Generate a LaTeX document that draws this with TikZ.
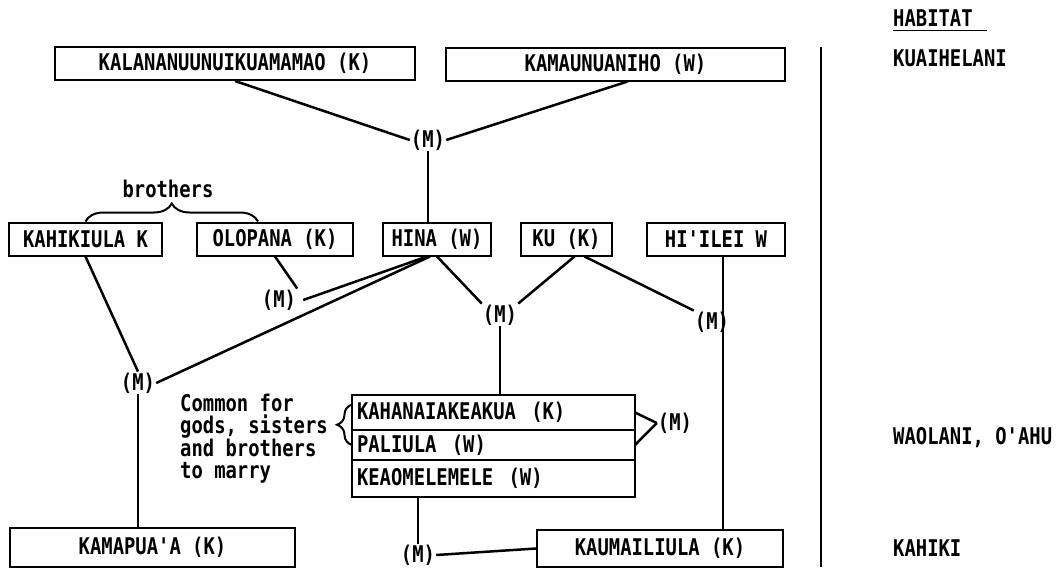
\documentclass[tikz,border=0pt]{standalone}
\usepackage{fontspec}
\setmonofont{DejaVu Sans Mono}[FakeStretch=0.82]
\usetikzlibrary{positioning,decorations.pathreplacing}

\tikzset{
  person/.style={draw, line width=2pt, minimum height=33pt, inner sep=2pt},
  marr/.style={inner sep=1pt},
  line/.style={line width=2.5pt},
  row/.style={draw, line width=2pt, outer sep=0pt, text width=273pt, inner xsep=5pt, inner ysep=0pt, align=left, anchor=north},
  place/.style={anchor=west, inner sep=0pt}
}

\begin{document}
\begin{tikzpicture}[x=1pt, y=-1pt, font=\ttfamily\bfseries\fontsize{23}{22}\selectfont]

\useasboundingbox (0,0) rectangle (1063,571);

\node(kalana) at (235, 63.5) [person, minimum width=360pt] {KALANANUUNUIKUAMAMAO (K)};
\node(kamau) at (615.5, 64) [person, minimum width=339pt] {KAMAUNUANIHO (W)};
\node(mtop) at (428, 140) [marr] {(M)};

\draw[line] (kalana.south) to (mtop.west);
\draw[line] ([xshift=12pt]kamau.south) to (mtop.east);

\node(kahiki) at (85.5, 239) [person, minimum width=153pt] {KAHIKIULA K};
\node(olopana) at (275, 239) [person, minimum width=156pt] {OLOPANA (K)};
\node(hina) at (437, 239) [person, minimum width=108pt] {HINA (W)};
\node(ku) at (566.5, 239) [person, minimum width=91pt] {KU (K)};
\node(hiilei) at (716, 239) [person, minimum width=138pt] {HI'ILEI W};

\draw[line] (mtop.south) to (mtop.south |- hina.north);

\node(brothers) at (168, 189) [] {brothers};
\draw[line width=2pt, decorate, decoration={brace, amplitude=18pt}] (kahiki.north) to ([xshift=-17pt]olopana.north);

\node(mo) at (279, 300) [marr] {(M)};
\node(ml) at (138, 383) [marr] {(M)};
\node(mc) at (500, 315) [marr] {(M)};
\node(mr) at (712, 322) [marr] {(M)};

\draw[line] (olopana.south) to (mo.north east);
\draw[line] ([xshift=-10pt]hina.south) to ([xshift=6pt]mo.east);
\draw[line] ([xshift=-7pt]hina.south) to (ml.east);
\draw[line] (kahiki.south) to (ml.north);
\draw[line] (hina.south) to (mc.north west);
\draw[line] ([xshift=8pt]ku.south) to (mc.north east);
\draw[line] ([xshift=18pt]ku.south) to (mr.north west);

\node(row1) at (493.5, 395) [row, minimum height=35pt] {KAHANAIAKEAKUA\ \ (K)};
\node(row2) [row, minimum height=30pt, below=0pt of row1] {PALIULA\ \ (W)};
\node(row3) [row, minimum height=37pt, below=0pt of row2] {KEAOMELEMELE\ \ (W)};
\node(mk) at (675, 423) [marr] {(M)};

\draw[line] (mc.south) to (mc.south |- row1.north);
\draw[line] (row1.east) to (mk.west);
\draw[line] (row2.east) to (mk.west);
\draw[line width=2pt, decorate, decoration={brace, amplitude=15pt}] (row2.west) to ([yshift=8pt]row1.west);

\node(common) at (180, 439) [anchor=west, align=left, inner sep=0pt] {Common for\\gods, sisters\\and brothers\\to marry};

\node(kamapua) at (152.5, 547.5) [person, minimum width=285pt, minimum height=39pt] {KAMAPUA'A (K)};
\node(kaumai) at (660, 548.5) [person, minimum width=246pt, minimum height=37pt] {KAUMAILIULA (K)};
\node(mb) at (418, 555) [marr] {(M)};

\draw[line] (ml.south) to (ml.south |- kamapua.north);
\draw[line] ([xshift=7pt]hiilei.south) to ([xshift=7pt]hiilei.south |- kaumai.north);
\draw[line] (mb |- row3.south) to (mb.north);
\draw[line] (kaumai.west) to (mb.east);

\draw[line width=2pt] (821, 47) -- (821, 567);

\node(habitat) at (893, 18) [place] {HABITAT};
\draw[line width=1.8pt] ([yshift=-4pt]habitat.south west) -- ([xshift=14pt, yshift=-4pt]habitat.south east);
\node(kuaihelani) at (893, 58) [place] {KUAIHELANI};
\node(waolani) at (893, 438) [place] {WAOLANI, O'AHU};
\node(kahikiplace) at (893, 548) [place] {KAHIKI};

\end{tikzpicture}
\end{document}
